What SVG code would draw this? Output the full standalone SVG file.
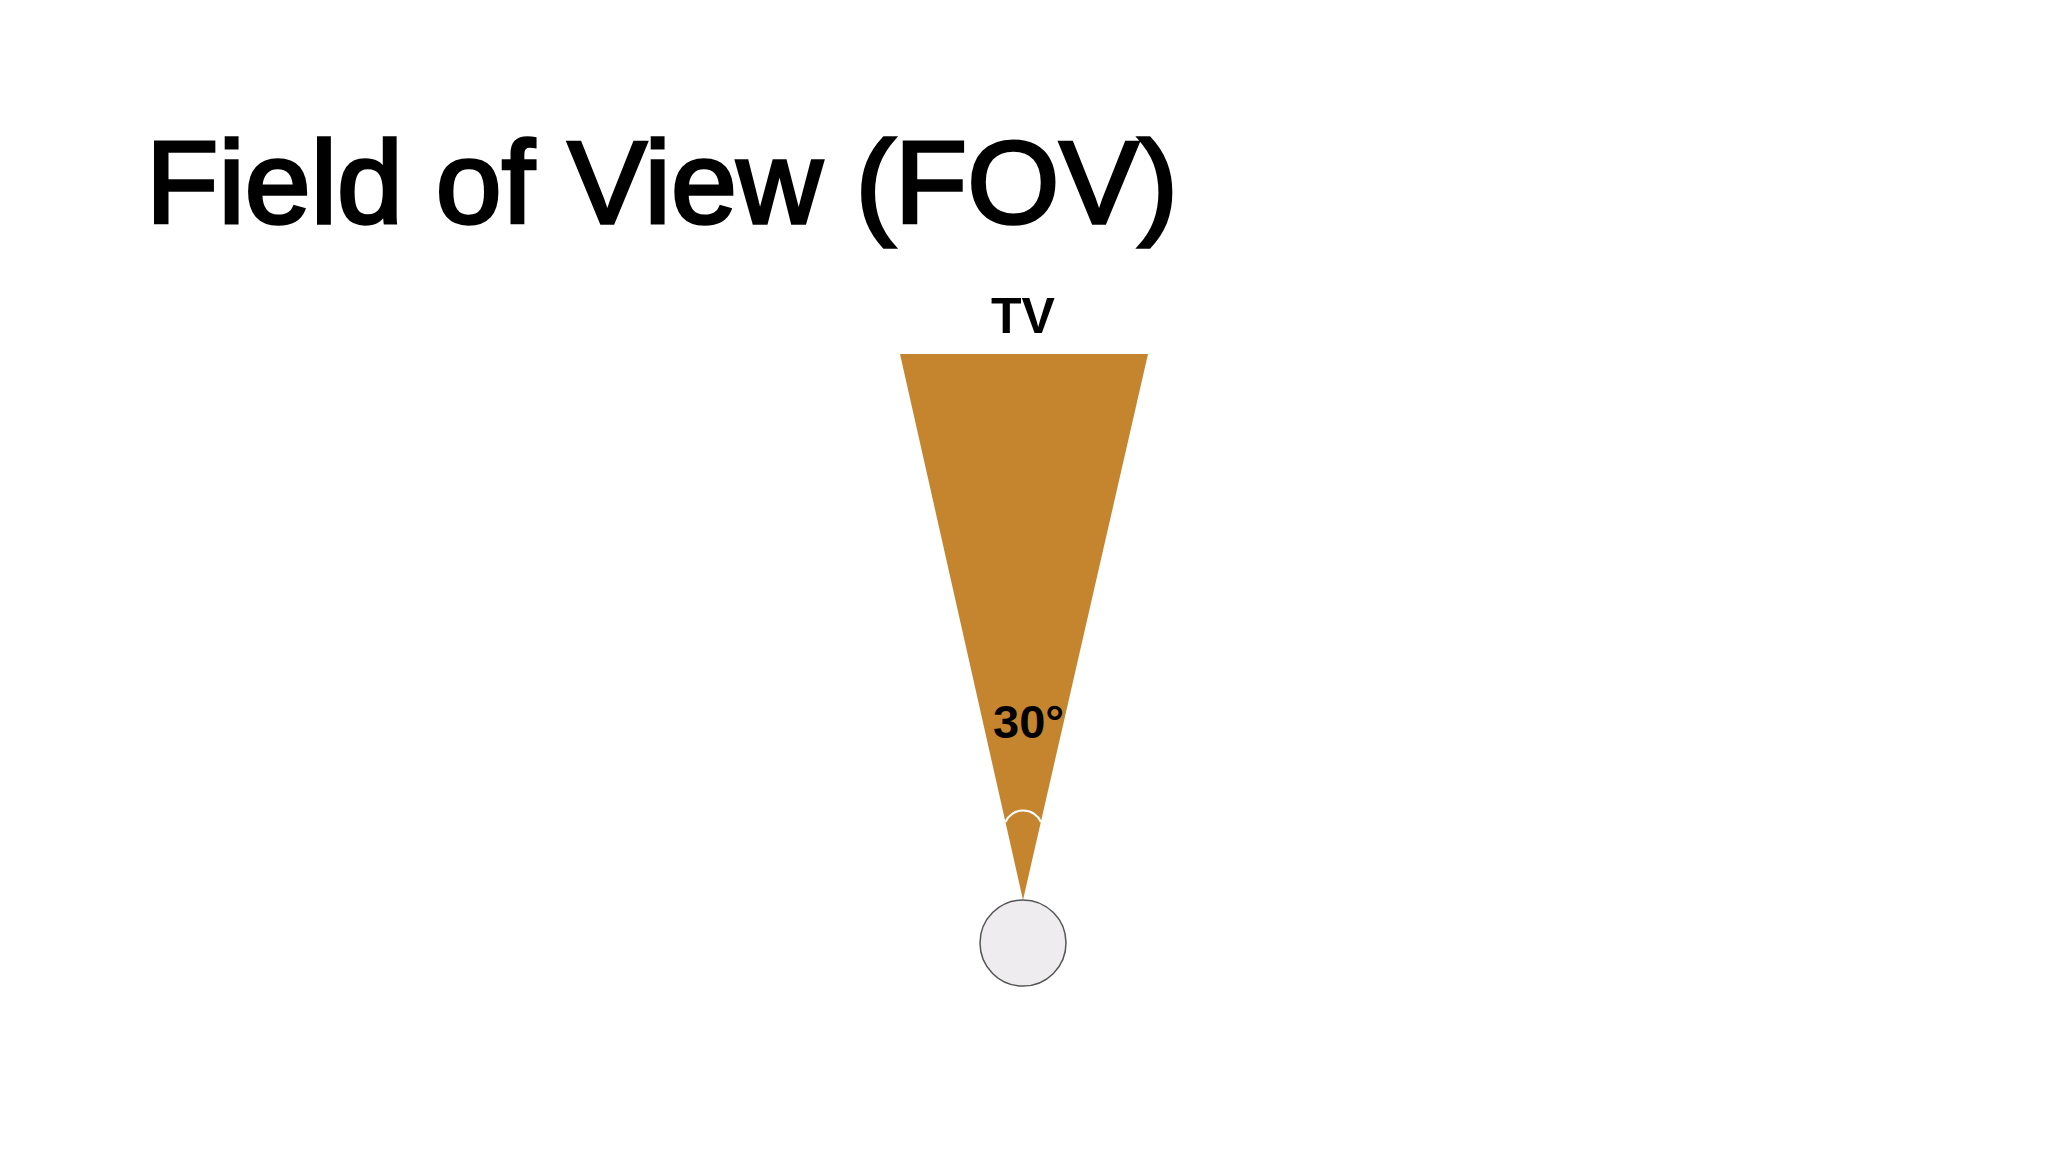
<svg xmlns="http://www.w3.org/2000/svg" width="2048" height="1152" viewBox="0 0 2048 1152">
  <style>
    .lbl { font-family: "Liberation Sans", Arial, sans-serif; font-weight: bold; fill: #000; }
    .ttl { font-family: "Liberation Sans", Arial, sans-serif; font-weight: normal; fill: #000; stroke: #000; stroke-width: 3.4; stroke-linejoin: miter; }
  </style>
  <rect x="0" y="0" width="2048" height="1152" fill="#ffffff"/>
  <g id="title">
    <text class="ttl" x="146" y="223" font-size="117" textLength="1032" lengthAdjust="spacingAndGlyphs">Field of View (FOV)</text>
  </g>
  <g id="tv-label">
    <text class="lbl" x="1023" y="333" font-size="50" text-anchor="middle">TV</text>
  </g>
  <g id="fov-cone">
    <polygon points="900,354 1148,354 1023,900" fill="#C5852E"/>
    <path d="M1005.4,822 A19.5,19.5 0 0 1 1041,822" fill="none" stroke="#ffffff" stroke-width="2"/>
    <text class="lbl" x="993" y="738" font-size="47">30°</text>
  </g>
  <g id="viewer">
    <circle cx="1023" cy="943" r="43" fill="#EEECEF" stroke="#555555" stroke-width="1.5"/>
  </g>
</svg>
